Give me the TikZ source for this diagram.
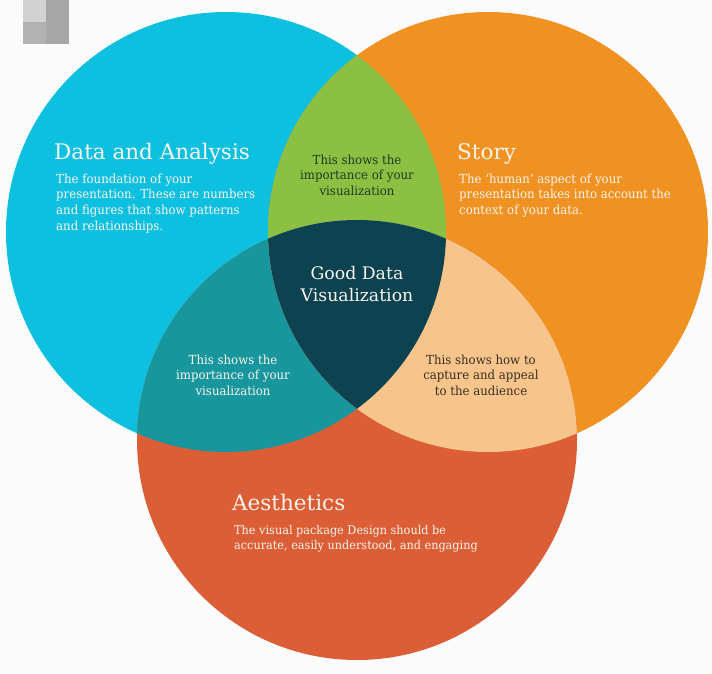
\documentclass[tikz,border=0pt]{standalone}
\usepackage{fontspec}
\setmainfont{DejaVu Serif}
\newfontfamily\narrowserif[FakeStretch=0.94]{DejaVu Serif}
\definecolor{bgc}{HTML}{FBFBFB}
\definecolor{cyanc}{HTML}{0DC0E0}
\definecolor{orangec}{HTML}{F09222}
\definecolor{redc}{HTML}{DB5E37}
\definecolor{greenc}{HTML}{8CC043}
\definecolor{tealc}{HTML}{18969E}
\definecolor{peachc}{HTML}{F7C58B}
\definecolor{darkc}{HTML}{0D4350}
\definecolor{lighttext}{HTML}{F7F3EA}
\definecolor{greentext}{HTML}{1F3B20}
\definecolor{peachtext}{HTML}{3A2E25}
\tikzset{
  title/.style={anchor=base west, inner sep=0pt, text=lighttext, font=\fontsize{21.5}{24}\selectfont},
  body/.style={anchor=north west, inner sep=0pt, align=left, text=lighttext, font=\narrowserif\fontsize{12.5}{15.8}\selectfont},
  smallbody/.style={body, font=\narrowserif\fontsize{12}{15}\selectfont},
  lens/.style={anchor=north, inner sep=0pt, align=center, font=\narrowserif\fontsize{12.5}{15.8}\selectfont},
  core/.style={anchor=north, inner sep=0pt, align=center, text=lighttext, font=\fontsize{17.3}{22}\selectfont},
}
\begin{document}
\begin{tikzpicture}[x=1pt,y=-1pt]
\useasboundingbox (0,0) rectangle (712,674);
\fill[bgc] (0,0) rectangle (712,674);
% grey tile in the corner
\fill[gray!60] (23,0) rectangle (69,44);
\fill[gray!70] (46,0) rectangle (69,44);
\fill[gray!35] (23,0) rectangle (46,22);

% the three sets
\coordinate (cA) at (226,232);
\coordinate (cS) at (488,232);
\coordinate (cE) at (357,440);
\fill[cyanc]   (cA) circle[radius=220pt];
\fill[orangec] (cS) circle[radius=220pt];
\fill[redc]    (cE) circle[radius=220pt];

% pairwise overlaps
\begin{scope}
  \clip (cA) circle[radius=220pt];
  \fill[greenc] (cS) circle[radius=220pt];
  \fill[tealc]  (cE) circle[radius=220pt];
\end{scope}
\begin{scope}
  \clip (cS) circle[radius=220pt];
  \fill[peachc] (cE) circle[radius=220pt];
\end{scope}
% centre, common to all three
\begin{scope}
  \clip (cA) circle[radius=220pt];
  \clip (cS) circle[radius=220pt];
  \fill[darkc] (cE) circle[radius=220pt];
\end{scope}

% labels
\node[title] (tA) at (54,159) {Data and Analysis};
\node[body]  (bA) at (56,173.5) {The foundation of your\\presentation. These are numbers\\and figures that show patterns\\and relationships.};

\node[title] (tS) at (457,159) {Story};
\node[body]  (bS) at (459,173.5) {The ‘human’ aspect of your\\presentation takes into account the\\context of your data.};

\node[title] (tE) at (232,510) {Aesthetics};
\node[smallbody] (bE) at (234,525) {The visual package Design should be\\accurate, easily understood, and engaging};

\node[lens, text=greentext] (lAS) at (357,154.5) {This shows the\\importance of your\\visualization};
\node[lens, text=lighttext] (lAE) at (233,354.5) {This shows the\\importance of your\\visualization};
\node[lens, text=peachtext] (lSE) at (481,354.5) {This shows how to\\capture and appeal\\to the audience};

\node[core] (mid) at (357,266.5) {Good Data\\Visualization};
\end{tikzpicture}
\end{document}
